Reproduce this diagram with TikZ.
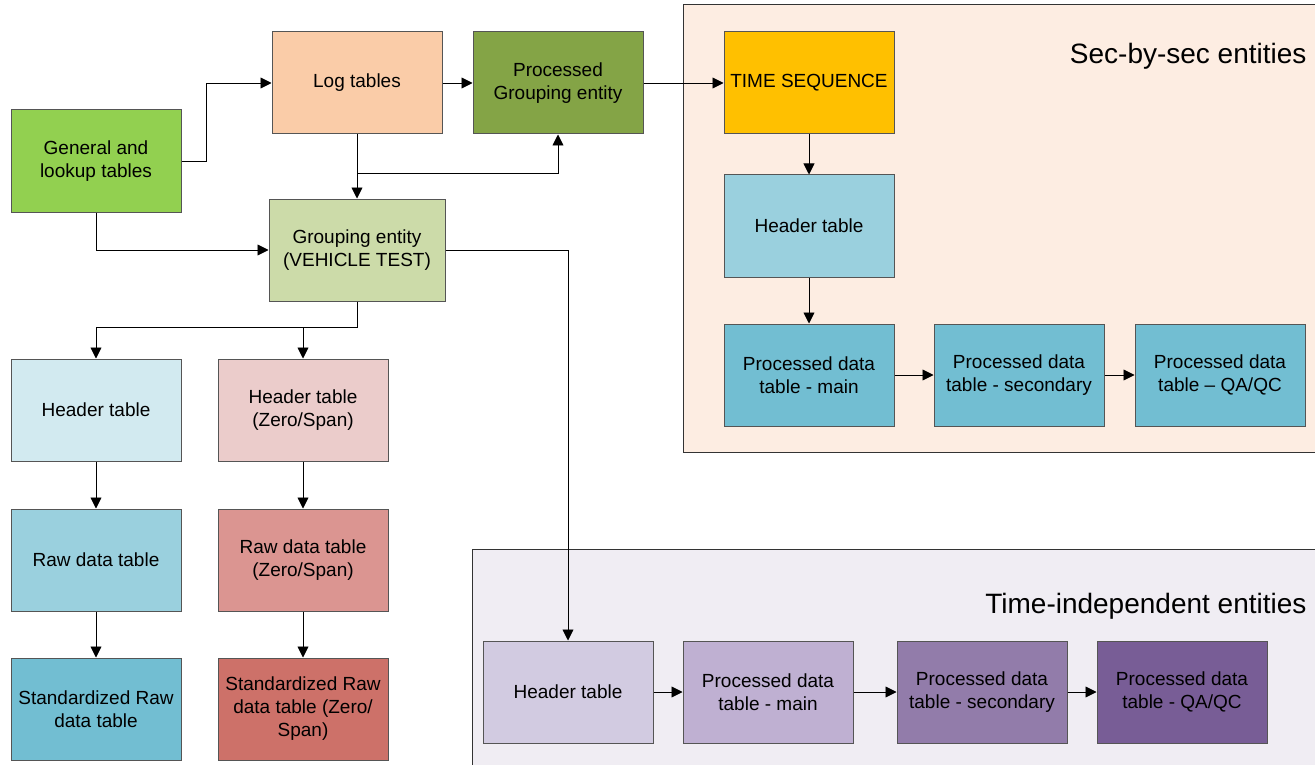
\documentclass[tikz,border=0pt]{standalone}
\usepackage{fontspec}
\setmainfont{Liberation Sans}
\usetikzlibrary{arrows.meta}

\definecolor{genGreen}{RGB}{146,208,80}
\definecolor{logPeach}{RGB}{250,204,168}
\definecolor{pgeOlive}{RGB}{132,164,70}
\definecolor{grpSage}{RGB}{204,219,169}
\definecolor{tsAmber}{RGB}{255,192,0}
\definecolor{blueA}{RGB}{210,234,240}
\definecolor{blueB}{RGB}{154,208,222}
\definecolor{blueC}{RGB}{114,190,210}
\definecolor{redA}{RGB}{235,204,203}
\definecolor{redB}{RGB}{219,149,145}
\definecolor{redC}{RGB}{205,113,105}
\definecolor{purA}{RGB}{210,203,225}
\definecolor{purB}{RGB}{191,176,210}
\definecolor{purC}{RGB}{146,124,170}
\definecolor{purD}{RGB}{120,93,150}
\definecolor{secBg}{RGB}{253,237,226}
\definecolor{tiBg}{RGB}{240,237,243}
\definecolor{boxLine}{RGB}{85,85,85}

\begin{document}
\begin{tikzpicture}[x=1pt,y=1pt,
    tbl/.style={draw=boxLine,line width=1pt,minimum width=170pt,minimum height=102pt,
      inner sep=2pt,align=center,font=\fontsize{19}{23}\selectfont},
    arr/.style={line width=0.9pt,-{Triangle[length=11pt,width=11pt]}},
    ttl/.style={font=\fontsize{28}{32}\selectfont,anchor=east}]
    \useasboundingbox (0,0) rectangle (1315,-765);

    % --- Panels
    \draw[fill=secBg,draw=black!80,line width=1pt] (683,-5) rectangle (1316,-452);
    \node[ttl] (secTitle) at (1310,-56) {Sec-by-sec entities};
    \draw[fill=tiBg,draw=black!80,line width=1pt] (472,-549) rectangle (1316,-770);
    \node[ttl] (tiTitle) at (1310,-606) {Time-independent entities};

    % --- Top row
    \node[tbl,fill=genGreen] (gen) at (96,-161) {General and\\lookup tables};
    \node[tbl,fill=logPeach] (log) at (357,-83) {Log tables};
    \node[tbl,fill=pgeOlive] (pge) at (558,-83) {Processed\\Grouping entity};
    \node[tbl,fill=grpSage,minimum width=176pt] (grp) at (357,-250) {Grouping entity\\(VEHICLE TEST)};

    % --- Sec-by-sec
    \node[tbl,fill=tsAmber] (ts) at (809,-83) {TIME SEQUENCE};
    \node[tbl,fill=blueB] (sHead) at (809,-226) {Header table};
    \node[tbl,fill=blueC] (sMain) at (809,-375) {Processed data\\table - main};
    \node[tbl,fill=blueC] (sSec) at (1019,-375) {Processed data\\table - secondary};
    \node[tbl,fill=blueC] (sQa) at (1220,-375) {Processed data\\table -- QA/QC};

    % --- Raw data (left columns)
    \node[tbl,fill=blueA] (lHead) at (96,-410) {Header table};
    \node[tbl,fill=blueB] (lRaw) at (96,-560) {Raw data table};
    \node[tbl,fill=blueC] (lStd) at (96,-709) {Standardized Raw\\data table};
    \node[tbl,fill=redA] (zHead) at (303,-410) {Header table\\(Zero/Span)};
    \node[tbl,fill=redB] (zRaw) at (303,-560) {Raw data table\\(Zero/Span)};
    \node[tbl,fill=redC] (zStd) at (303,-709) {Standardized Raw\\data table (Zero/\\Span)};

    % --- Time-independent
    \node[tbl,fill=purA] (tHead) at (568,-692) {Header table};
    \node[tbl,fill=purB] (tMain) at (768,-692) {Processed data\\table - main};
    \node[tbl,fill=purC] (tSec) at (982,-692) {Processed data\\table - secondary};
    \node[tbl,fill=purD] (tQa) at (1182,-692) {Processed data\\table - QA/QC};

    % --- Connectors
    \draw[arr] (gen.east) -- ++(25,0) |- (log.west);
    \draw[arr] (log) -- (pge);
    \draw[arr] (pge) -- (ts);
    \draw[arr] (log.south) -- (grp.north);
    \coordinate (logSplit) at (357,-173);
    \draw[arr] (logSplit) -| (pge.south);
    \draw[arr] (gen.south) |- (grp.west);
    \draw[arr] (grp.east) -| (tHead.north);
    \draw[arr] (grp.south) -- ++(0,-26) -| (lHead.north);
    \draw[arr] (grp.south) -- ++(0,-26) -| (zHead.north);

    \draw[arr] (lHead) -- (lRaw);
    \draw[arr] (lRaw) -- (lStd);
    \draw[arr] (zHead) -- (zRaw);
    \draw[arr] (zRaw) -- (zStd);

    \draw[arr] (ts) -- (sHead);
    \draw[arr] (sHead) -- (sMain);
    \draw[arr] (sMain) -- (sSec);
    \draw[arr] (sSec) -- (sQa);

    \draw[arr] (tHead) -- (tMain);
    \draw[arr] (tMain) -- (tSec);
    \draw[arr] (tSec) -- (tQa);
  \end{tikzpicture}
\end{document}
